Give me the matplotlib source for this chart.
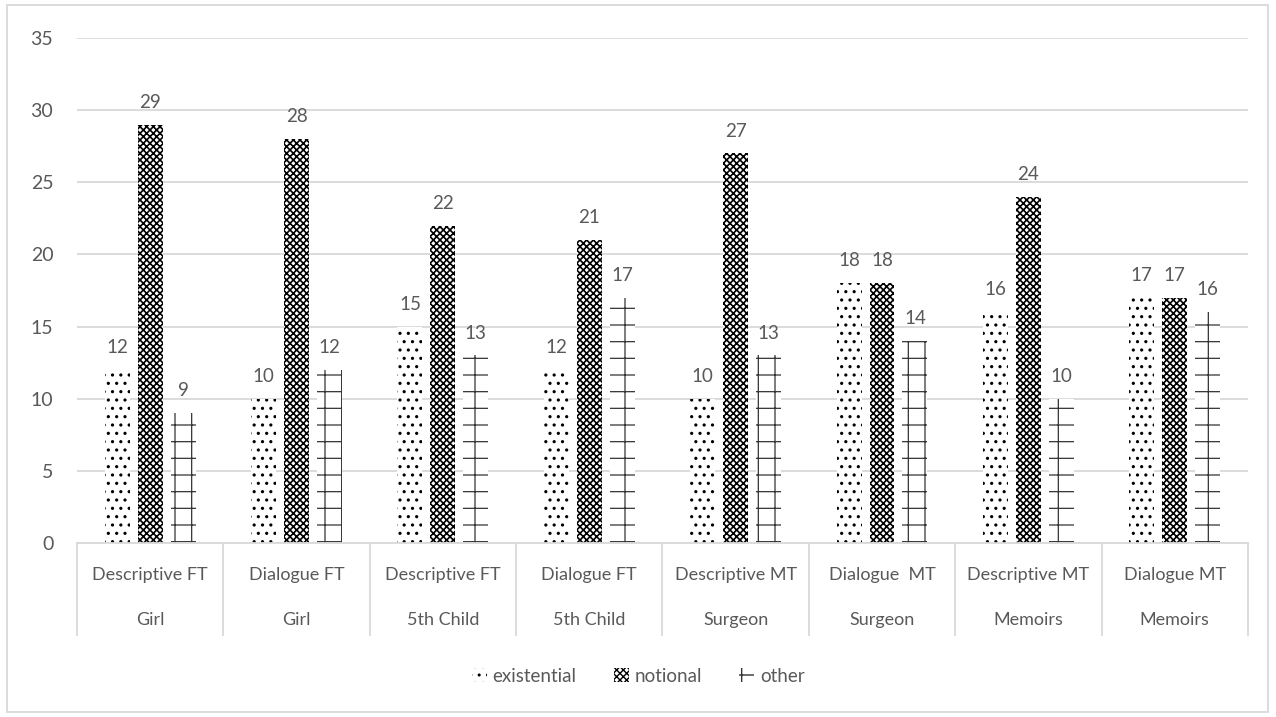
import numpy as np
import matplotlib as mpl
import matplotlib.pyplot as plt
from matplotlib.patches import Rectangle

plt.rcParams['font.family'] = ['Lato', 'DejaVu Sans']

genres = ['Descriptive FT', 'Dialogue FT', 'Descriptive FT', 'Dialogue FT',
          'Descriptive MT', 'Dialogue  MT', 'Descriptive MT', 'Dialogue MT']
books = ['Girl', 'Girl', '5th Child', '5th Child',
         'Surgeon', 'Surgeon', 'Memoirs', 'Memoirs']
existential = [12, 10, 15, 12, 10, 18, 16, 17]
notional = [29, 28, 22, 21, 27, 18, 24, 17]
other = [9, 12, 13, 17, 13, 14, 10, 16]

grey = '#595959'
fig = plt.figure(figsize=(12.76, 7.17), dpi=100)
ax = fig.add_axes([0.0603, 0.2427, 0.9177, 0.7043])

x = np.arange(len(genres))
w = 0.17
off = 0.225
# (values, hatch, hatch colour, hatch linewidth, name)
series = [(existential, '..', 'black', 1.1, 'existential'),
          (notional, 'xxxxx', 'black', 1.2, 'notional'),
          (other, '+', '#333333', 0.9, 'other')]
bars = []
for i, (vals, h, hc, hlw, name) in enumerate(series):
    with mpl.rc_context({'hatch.linewidth': hlw}):
        b = ax.bar(x + (i - 1) * off, vals, w, color='white', edgecolor=hc,
                   linewidth=0, hatch=h, label=name, zorder=2)
    bars.append(b)
    for xi, v in zip(x + (i - 1) * off, vals):
        ax.annotate(str(v), (xi, v), xytext=(0, 10), textcoords='offset points',
                    ha='center', va='bottom', fontsize=13.5, color=grey)

ax.set_xlim(-0.5, len(genres) - 0.5)
ax.set_ylim(0, 35)
ax.set_yticks(range(0, 36, 5))
ax.tick_params(axis='y', length=0, pad=17, labelsize=14, labelcolor=grey)
ax.set_xticks([])
ax.grid(axis='y', color='#d9d9d9', linewidth=1.3, zorder=0)
ax.set_axisbelow(True)
for s in ['top', 'right', 'left']:
    ax.spines[s].set_visible(False)
ax.spines['bottom'].set_color('#d9d9d9')
ax.spines['bottom'].set_linewidth(1.3)

# two-level category axis
trans = ax.get_xaxis_transform()
for sep in np.arange(-0.5, len(genres), 1.0):
    ax.plot([sep, sep], [0, -0.182], transform=trans, color='#d9d9d9',
            linewidth=1.3, clip_on=False)
for xi, g, bk in zip(x, genres, books):
    ax.text(xi, -0.063, g, transform=trans, ha='center', va='center',
            fontsize=13, color=grey)
    ax.text(xi, -0.152, bk, transform=trans, ha='center', va='center',
            fontsize=13, color=grey)

fig.legend(handles=bars, loc='center', bbox_to_anchor=(0.5, 1 - 676 / 717),
           ncol=3, frameon=False, fontsize=13.5, labelcolor=grey,
           handlelength=0.8, handleheight=0.8, handletextpad=0.3,
           columnspacing=2.0)

fig.patches.append(Rectangle((7 / 1276, 5 / 717), 1261 / 1276, 707 / 717,
                             transform=fig.transFigure, fill=False,
                             edgecolor='#d9d9d9', linewidth=1.3))

plt.savefig('out.png')
